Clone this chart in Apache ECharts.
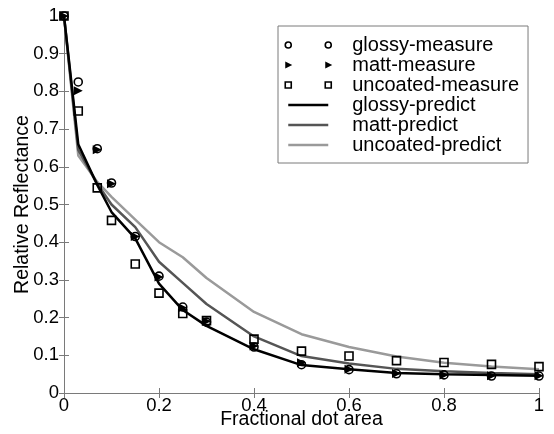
<!DOCTYPE html>
<html>
<head>
<meta charset="utf-8">
<script src="https://cdn.jsdelivr.net/npm/echarts@6/dist/echarts.min.js"></script>
<style>
html,body{margin:0;padding:0;background:#fff;}
#chart{width:554px;height:434px;}
</style>
</head>
<body>
<div id="chart"></div>
<script>
var xValues = [0, 0.03, 0.07, 0.1, 0.15, 0.2, 0.25, 0.3, 0.4, 0.5, 0.6, 0.7, 0.8, 0.9, 1.0];
var glossyMeasure   = [1, 0.825, 0.648, 0.557, 0.415, 0.310, 0.228, 0.188, 0.122, 0.075, 0.062, 0.051, 0.048, 0.045, 0.045];
var mattMeasure     = [1, 0.802, 0.645, 0.555, 0.415, 0.308, 0.226, 0.190, 0.125, 0.080, 0.063, 0.052, 0.048, 0.046, 0.046];
var uncoatedMeasure = [1, 0.748, 0.544, 0.458, 0.342, 0.265, 0.211, 0.192, 0.143, 0.111, 0.098, 0.086, 0.081, 0.076, 0.070];
var glossyPredict   = [1, 0.660, 0.552, 0.480, 0.410, 0.290, 0.220, 0.178, 0.116, 0.074, 0.063, 0.053, 0.050, 0.048, 0.046];
var mattPredict     = [1, 0.645, 0.555, 0.500, 0.440, 0.348, 0.292, 0.236, 0.150, 0.098, 0.078, 0.064, 0.058, 0.053, 0.050];
var uncoatedPredict = [1, 0.630, 0.560, 0.520, 0.460, 0.400, 0.360, 0.305, 0.215, 0.156, 0.122, 0.097, 0.080, 0.070, 0.063];
var seriesNames = ['glossy-measure', 'matt-measure', 'uncoated-measure', 'glossy-predict', 'matt-predict', 'uncoated-predict'];
var xAxisName = 'Fractional dot area';
var yAxisName = 'Relative Reflectance';

function pairs(ys) { return xValues.map(function (x, i) { return [x, ys[i]]; }); }

var FONT = '"Liberation Sans", Arial, sans-serif';
var AXIS_GRAY = '#7a7a7a';
var TRI = 'path://M0,0L10,5L0,10Z';

var frameAxis = function (pos, isX) {
  return {
    type: 'value', position: pos, min: 0, max: 1, interval: isX ? 0.2 : 0.1,
    axisLine: { show: true, lineStyle: { color: AXIS_GRAY, width: 1 } },
    axisTick: { show: true, inside: true, length: 5, lineStyle: { color: AXIS_GRAY, width: 1 } },
    axisLabel: { show: false },
    splitLine: { show: false }
  };
};

var chart = echarts.init(document.getElementById('chart'), null, { renderer: 'canvas' });
var option = {
  animation: false,
  backgroundColor: '#fff',
  grid: { left: 64, right: 15, top: 16, bottom: 41, containLabel: false, outerBoundsMode: 'none' },
  xAxis: [
    {
      type: 'value', position: 'bottom', min: 0, max: 1, interval: 0.2,
      name: xAxisName, nameLocation: 'middle', nameGap: 17, nameMoveOverlap: false,
      nameTextStyle: { color: '#000', fontSize: 19.5, fontFamily: FONT },
      axisLine: { show: true, onZero: false, lineStyle: { color: AXIS_GRAY, width: 1 } },
      axisTick: { show: true, inside: true, length: 5, lineStyle: { color: AXIS_GRAY, width: 1 } },
      axisLabel: { show: true, margin: 3, color: '#000', fontSize: 18.5, fontFamily: FONT },
      splitLine: { show: false }
    },
    frameAxis('top', true)
  ],
  yAxis: [
    {
      type: 'value', position: 'left', min: 0, max: 1, interval: 0.1,
      name: yAxisName, nameLocation: 'middle', nameGap: 31, nameMoveOverlap: false,
      nameTextStyle: { color: '#000', fontSize: 19.5, fontFamily: FONT },
      axisLine: { show: true, onZero: false, lineStyle: { color: AXIS_GRAY, width: 1 } },
      axisTick: { show: true, inside: true, length: 5, lineStyle: { color: AXIS_GRAY, width: 1 } },
      axisLabel: { show: true, margin: 5, color: '#000', fontSize: 18.5, fontFamily: FONT },
      splitLine: { show: false }
    },
    frameAxis('right', false)
  ],
  legend: {
    orient: 'vertical', left: 278, top: 26,
    padding: [9, 9, 8, 6],
    itemGap: 0, itemWidth: 62, itemHeight: 8,
    symbolKeepAspect: true,
    backgroundColor: '#fff', borderColor: AXIS_GRAY, borderWidth: 1, borderRadius: 0,
    textStyle: { color: '#000', fontSize: 20, fontFamily: FONT, lineHeight: 20 },
    selectedMode: false,
    data: [
      { name: seriesNames[0], icon: 'path://M0,0M62,8M0,4a3,3 0 1,0 6,0a3,3 0 1,0 -6,0M40,4a3,3 0 1,0 6,0a3,3 0 1,0 -6,0',
        itemStyle: { color: 'rgba(0,0,0,0)', borderColor: '#000', borderWidth: 1.6 } },
      { name: seriesNames[1], icon: 'path://M0,0M62,8M0,0.5L7,4L0,7.5ZM40,0.5L47,4L40,7.5Z',
        itemStyle: { color: '#000', borderColor: '#000', borderWidth: 0 } },
      { name: seriesNames[2], icon: 'path://M0,0M62,8M0,1h6v6h-6zM40,1h6v6h-6z',
        itemStyle: { color: 'rgba(0,0,0,0)', borderColor: '#000', borderWidth: 1.6 } },
      { name: seriesNames[3], icon: 'path://M0,0M62,8M3,4L43,4',
        itemStyle: { color: 'rgba(0,0,0,0)', borderColor: '#000', borderWidth: 2.5 } },
      { name: seriesNames[4], icon: 'path://M0,0M62,8M3,4L43,4',
        itemStyle: { color: 'rgba(0,0,0,0)', borderColor: '#555', borderWidth: 2.5 } },
      { name: seriesNames[5], icon: 'path://M0,0M62,8M3,4L43,4',
        itemStyle: { color: 'rgba(0,0,0,0)', borderColor: '#9a9a9a', borderWidth: 2.5 } }
    ]
  },
  series: [
    { name: seriesNames[5], type: 'line', data: pairs(uncoatedPredict), symbol: 'none', z: 2,
      lineStyle: { color: '#9a9a9a', width: 2.5 }, itemStyle: { color: '#9a9a9a' } },
    { name: seriesNames[4], type: 'line', data: pairs(mattPredict), symbol: 'none', z: 3,
      lineStyle: { color: '#555', width: 2.5 }, itemStyle: { color: '#555' } },
    { name: seriesNames[3], type: 'line', data: pairs(glossyPredict), symbol: 'none', z: 4,
      lineStyle: { color: '#000', width: 2.5 }, itemStyle: { color: '#000' } },
    { name: seriesNames[2], type: 'scatter', data: pairs(uncoatedMeasure), symbol: 'rect', symbolSize: 8, z: 5,
      itemStyle: { color: 'rgba(0,0,0,0)', borderColor: '#000', borderWidth: 1.6, opacity: 1 } },
    { name: seriesNames[1], type: 'scatter', data: pairs(mattMeasure), symbol: TRI, symbolSize: [9, 9], z: 6,
      itemStyle: { color: '#000', opacity: 1 } },
    { name: seriesNames[0], type: 'scatter', data: pairs(glossyMeasure), symbol: 'circle', symbolSize: 8, z: 7,
      itemStyle: { color: 'rgba(0,0,0,0)', borderColor: '#000', borderWidth: 1.6, opacity: 1 } }
  ]
};
chart.setOption(option);
</script>
</body>
</html>
